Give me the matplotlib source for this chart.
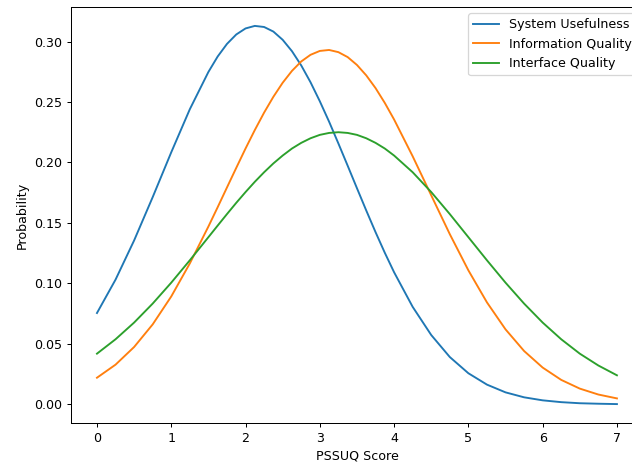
import matplotlib
matplotlib.use("Agg")
import matplotlib.pyplot as plt

# PSSUQ score grid (finer around the peaks) and probability values
score = [0.0, 0.25, 0.5, 0.75, 1.0, 1.25,
         1.5, 1.625, 1.75, 1.875, 2.0, 2.125, 2.25, 2.375, 2.5, 2.625, 2.75, 2.875,
         3.0, 3.125, 3.25, 3.375, 3.5, 3.625, 3.75, 3.875, 4.0,
         4.25, 4.5, 4.75, 5.0, 5.25, 5.5, 5.75, 6.0, 6.25, 6.5, 6.75, 7.0]

system_usefulness = [0.0755, 0.1031, 0.1355, 0.1713, 0.2084, 0.2440,
                     0.2748, 0.2876, 0.2980, 0.3058, 0.3108, 0.3129, 0.3120, 0.3082,
                     0.3014, 0.2920, 0.2802, 0.2663, 0.2506, 0.2337, 0.2157, 0.1973,
                     0.1787, 0.1603, 0.1424, 0.1253, 0.1092,
                     0.0806, 0.0573, 0.0391, 0.0257, 0.0163, 0.0099, 0.0058,
                     0.0033, 0.0018, 0.0009, 0.0005, 0.0002]

information_quality = [0.0220, 0.0328, 0.0474, 0.0661, 0.0892, 0.1165,
                       0.1470, 0.1630, 0.1793, 0.1955, 0.2115, 0.2268, 0.2412, 0.2543,
                       0.2659, 0.2757, 0.2835, 0.2890, 0.2922, 0.2930, 0.2912, 0.2871,
                       0.2806, 0.2720, 0.2615, 0.2492, 0.2355,
                       0.2051, 0.1728, 0.1407, 0.1108, 0.0843, 0.0620, 0.0441,
                       0.0304, 0.0202, 0.0130, 0.0081, 0.0049]

interface_quality = [0.0419, 0.0538, 0.0676, 0.0833, 0.1006, 0.1191,
                     0.1382, 0.1478, 0.1573, 0.1666, 0.1755, 0.1840, 0.1919, 0.1992,
                     0.2057, 0.2115, 0.2162, 0.2200, 0.2228, 0.2244, 0.2250, 0.2244,
                     0.2228, 0.2200, 0.2162, 0.2115, 0.2057,
                     0.1919, 0.1755, 0.1573, 0.1382, 0.1191, 0.1006, 0.0833,
                     0.0676, 0.0538, 0.0419, 0.0321, 0.0240]

DPI = 91
fig = plt.figure(figsize=(632 / DPI, 463 / DPI), dpi=DPI)
# axes run past the right edge, as in the reference
ax = fig.add_axes([0.1123, 0.0864, 0.905, 0.8985])

ax.plot(score, system_usefulness, label="System Usefulness")
ax.plot(score, information_quality, label="Information Quality")
ax.plot(score, interface_quality, label="Interface Quality")

ax.set_xlabel("PSSUQ Score")
ax.set_ylabel("Probability")
ax.legend(loc="upper right")

fig.savefig("out.png", dpi=DPI)
